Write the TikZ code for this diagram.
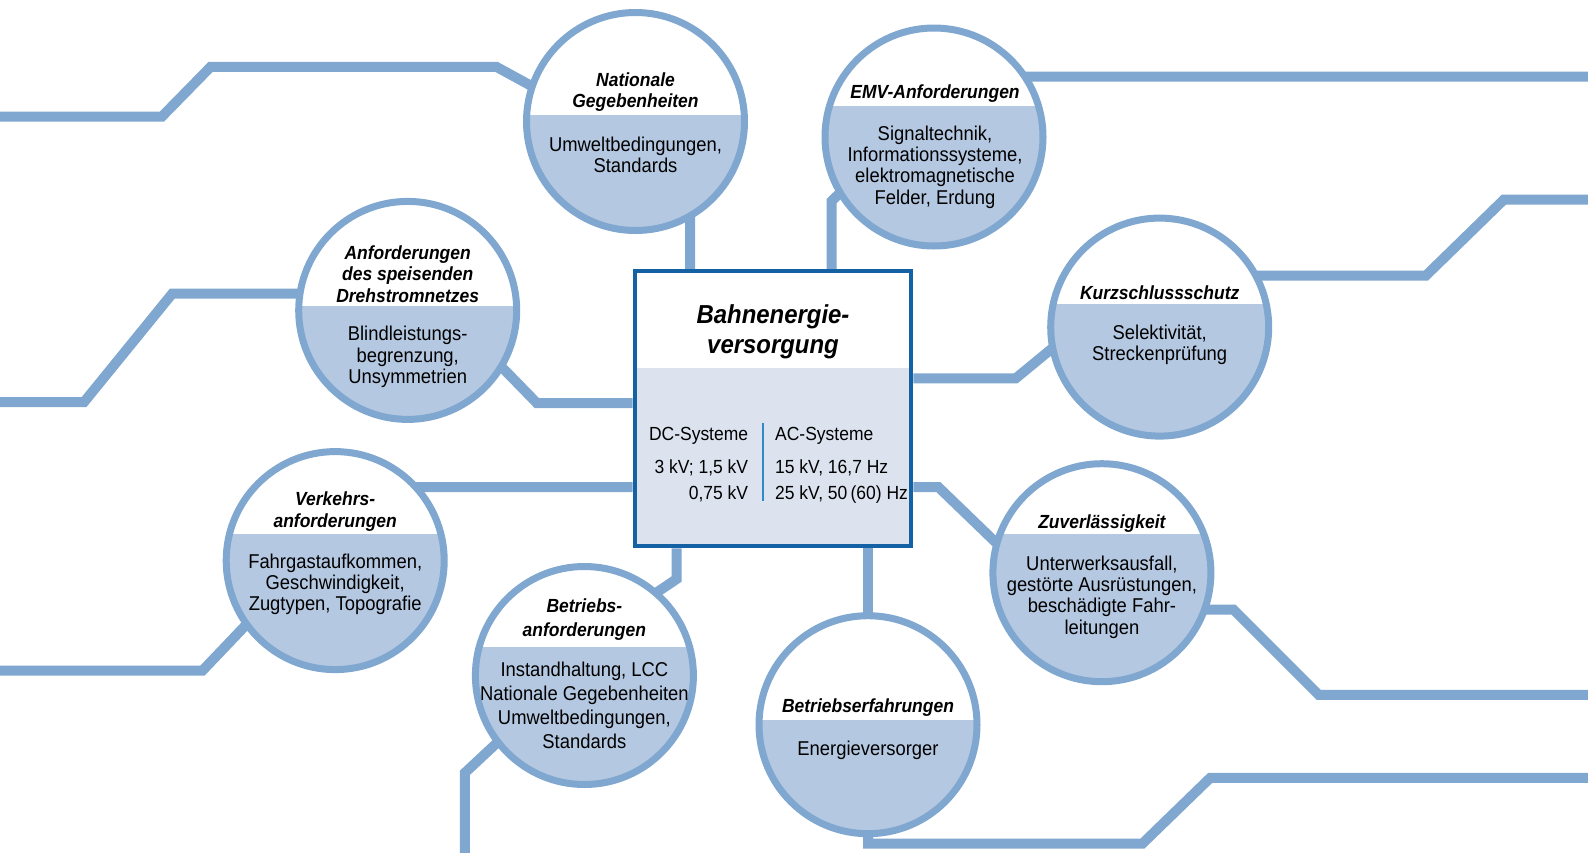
\documentclass[tikz,border=0pt]{standalone}
\usepackage{fontspec}
\setmainfont{Liberation Sans}[FakeStretch=0.92]
\usetikzlibrary{calc,backgrounds}
\definecolor{lineblue}{RGB}{127,167,207}
\definecolor{bubblefill}{RGB}{181,200,225}
\definecolor{boxblue}{RGB}{20,98,163}
\definecolor{boxfill}{RGB}{220,227,239}
\definecolor{sepblue}{RGB}{46,139,201}
\tikzset{
  conn/.style={draw=lineblue, line width=10pt},
  bubble/.style={circle, minimum size=218pt, inner sep=0pt, draw=lineblue, line width=7pt, fill=white,
    path picture={\fill[bubblefill] ($(path picture bounding box.center)+(-130pt,#1)$) rectangle ($(path picture bounding box.center)+(130pt,-130pt)$);}},
  mainbox/.style={rectangle, minimum width=276.6pt, minimum height=275pt, inner sep=0pt, draw=boxblue, line width=4pt, fill=white,
    path picture={\fill[boxfill] ($(path picture bounding box.center)+(-150pt,#1)$) rectangle ($(path picture bounding box.center)+(150pt,-150pt)$);}},
  ttl/.style={font=\fontsize{19}{21.5}\selectfont\bfseries\itshape, align=center, inner sep=0pt},
  txt/.style={font=\fontsize{20}{21.3}\selectfont, align=center, inner sep=0pt},
  boxttl/.style={font=\fontsize{26}{30}\selectfont\bfseries\itshape, align=center, inner sep=0pt},
  boxtxt/.style={font=\fontsize{19}{21}\selectfont, inner sep=0pt},
}
\begin{document}
\begin{tikzpicture}[x=1pt,y=-1pt]
\useasboundingbox (0,0) rectangle (1588,852);
\clip (0,0) rectangle (1588,852);

% bubbles
\node[bubble=7pt]  (c1) at (635.5,121.5) {};
\node[bubble=31pt] (c2) at (934,137) {};
\node[bubble=4.5pt] (c3) at (407.7,310.4) {};
\node[bubble=23pt] (c4) at (1159.7,327.1) {};
\node[bubble=27pt] (c5) at (335.2,560.6) {};
\node[bubble=39pt] (c6) at (1101.9,572.7) {};
\node[bubble=29pt] (c7) at (584.4,675.5) {};
\node[bubble=5pt]  (c8) at (868,724.7) {};

% central box
\node[mainbox=40.5pt] (box) at (773,408.8) {};

% connectors
\begin{pgfonlayer}{background}
\draw[conn] (0,116.5) -- (162,116.5) -- (210.7,66.8) -- (496.3,66.8) -- (531.7,86.1) -- (c1.center);
\draw[conn] (c1.center) -- (690,150) -- (690,0 |- box.north);
\draw[conn] (831.7,0 |- box.north) -- (831.7,201) -- (845,188) -- (c2.center);
\draw[conn] (c2.center) -- (990,76.5) -- (1588,76.5);
\draw[conn] (c3.center) -- (330,293.7) -- (172.2,293.7) -- (84.1,402) -- (0,402);
\draw[conn] (c3.center) -- (490,355) -- (536.8,403) -- (box.west |- 0,403);
\draw[conn] (c5.center) -- (400,487) -- (box.west |- 0,487);
\draw[conn] (c5.center) -- (262.6,607.5) -- (202.6,670.5) -- (0,670.5);
\draw[conn] (676.7,0 |- box.south) -- (676.7,579) -- (616.7,619.2) -- (c7.center);
\draw[conn] (c7.center) -- (524.9,716.8) -- (464.9,772.8) -- (464.9,860);
\draw[conn] (box.south -| c8.center) -- (c8.center);
\draw[conn] (c8.center) -- (868,843.6) -- (1142.4,843.6) -- (1210.3,777.8) -- (1600,777.8);
\draw[conn] (box.east |- 0,378.3) -- (1015.8,378.3) -- (1075.8,328.9) -- (c4.center);
\draw[conn] (c4.center) -- (1220,275.5) -- (1426,275.5) -- (1504,199.5) -- (1600,199.5);
\draw[conn] (box.east |- 0,487) -- (938.3,487) -- (995,541.7) -- (1035,580) -- (c6.center);
\draw[conn] (c6.center) -- (1160,609.7) -- (1233.6,609.7) -- (1318.7,694.8) -- (1600,694.8);
\end{pgfonlayer}

% bubble texts
\node[ttl] (c1t) at (635.5,92) {Nationale\\Gegebenheiten};
\node[txt] (c1b) at (635.5,155) {Umweltbedingungen,\\Standards};
\node[ttl] (c2t) at (935,94) {EMV-Anforderungen};
\node[txt] (c2b) at (935,167) {Signaltechnik,\\Informationssysteme,\\elektromagnetische\\Felder, Erdung};
\node[ttl] (c3t) at (407.7,274) {Anforderungen\\des speisenden\\Drehstromnetzes};
\node[txt] (c3b) at (407.7,357) {Blindleistungs-\\begrenzung,\\Unsymmetrien};
\node[ttl] (c4t) at (1159.7,292.5) {Kurzschlussschutz};
\node[txt] (c4b) at (1159.7,345) {Selektivität,\\Streckenprüfung};
\node[ttl] (c5t) at (335.2,511.5) {Verkehrs-\\anforderungen};
\node[txt] (c5b) at (335.2,584.5) {Fahrgastaufkommen,\\Geschwindigkeit,\\Zugtypen, Topografie};
\node[ttl] (c6t) at (1101.9,523.5) {Zuverlässigkeit};
\node[txt] (c6b) at (1101.9,597) {Unterwerksausfall,\\gestörte Ausrüstungen,\\beschädigte Fahr-\\leitungen};
\node[ttl,font=\fontsize{19}{23.3}\selectfont\bfseries\itshape] (c7t) at (584.4,619.5) {Betriebs-\\anforderungen};
\node[txt,font=\fontsize{20}{24.2}\selectfont] (c7b) at (584.4,705.5) {Instandhaltung, LCC\\Nationale Gegebenheiten\\Umweltbedingungen,\\Standards};
\node[ttl] (c8t) at (868,708) {Betriebserfahrungen};
\node[txt] (c8b) at (868,750.5) {Energieversorger};

% box texts
\node[boxttl] (bt) at (773,331.5) {Bahnenergie-\\versorgung};
\node[boxtxt,anchor=base east] (dc1) at (748.3,440) {DC-Systeme};
\node[boxtxt,anchor=base east] (dc2) at (748.3,473.3) {3 kV; 1,5 kV};
\node[boxtxt,anchor=base east] (dc3) at (748.3,499.3) {0,75 kV};
\node[boxtxt,anchor=base west] (ac1) at (775,440) {AC-Systeme};
\node[boxtxt,anchor=base west] (ac2) at (775,473.3) {15 kV, 16,7 Hz};
\node[boxtxt,anchor=base west] (ac3) at (775,499.3) {25 kV, 50\,(60) Hz};
\coordinate (sept) at (762.7,422.7);
\coordinate (sepb) at (762.7,500.7);
\draw[sepblue, line width=2pt] (sept) -- (sepb);
\end{tikzpicture}
\end{document}
